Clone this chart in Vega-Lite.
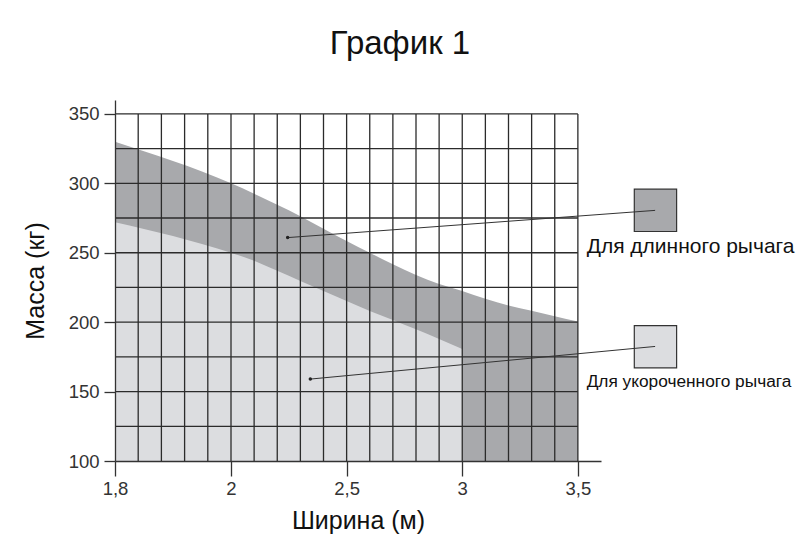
{
  "$schema": "https://vega.github.io/schema/vega-lite/v6.json",
  "autosize": "none",
  "width": 486,
  "height": 361,
  "padding": {"left": 115, "top": 100, "right": 206, "bottom": 93},
  "background": "white",
  "config": {"font": "Liberation Sans", "view": {"stroke": null}},
  "title": {"text": "График 1", "fontSize": 33, "fontWeight": "normal", "color": "#111", "frame": "group", "anchor": "middle", "dx": 42, "offset": 39},
  "datasets": {
    "dark": [
      {"w": 1.8, "kg": 330}, {"w": 2.0, "kg": 300}, {"w": 2.1, "kg": 292.5}, {"w": 2.2, "kg": 284.5},
      {"w": 2.3, "kg": 276.3}, {"w": 2.4, "kg": 267.3}, {"w": 2.5, "kg": 258.4}, {"w": 2.6, "kg": 250},
      {"w": 2.7, "kg": 241.7}, {"w": 2.8, "kg": 234}, {"w": 2.9, "kg": 227.5}, {"w": 3.0, "kg": 222.5},
      {"w": 3.1, "kg": 216.8}, {"w": 3.2, "kg": 212}, {"w": 3.3, "kg": 208.2}, {"w": 3.4, "kg": 204.3},
      {"w": 3.5, "kg": 200.5}
    ],
    "light": [
      {"w": 1.8, "kg": 272}, {"w": 2.0, "kg": 250}, {"w": 2.1, "kg": 244.3}, {"w": 2.2, "kg": 237},
      {"w": 2.3, "kg": 229.7}, {"w": 2.4, "kg": 222.5}, {"w": 2.5, "kg": 215.3}, {"w": 2.6, "kg": 208.1},
      {"w": 2.7, "kg": 201.6}, {"w": 2.8, "kg": 194.8}, {"w": 2.9, "kg": 187.8}, {"w": 3.0, "kg": 180.6}
    ],
    "hgrid": [{"kg": 125}, {"kg": 150}, {"kg": 175}, {"kg": 200}, {"kg": 225}, {"kg": 250}, {"kg": 275}, {"kg": 300}, {"kg": 325}, {"kg": 350}],
    "vgrid": [{"w": 1.84}, {"w": 1.88}, {"w": 1.92}, {"w": 1.96}, {"w": 2.0}, {"w": 2.1}, {"w": 2.2}, {"w": 2.3}, {"w": 2.4}, {"w": 2.5}, {"w": 2.6}, {"w": 2.7}, {"w": 2.8}, {"w": 2.9}, {"w": 3.0}, {"w": 3.1}, {"w": 3.2}, {"w": 3.3}, {"w": 3.4}, {"w": 3.5}],
    "notes": [
      {"series": "long", "label": "Для длинного рычага", "fromW": 2.245, "fromKg": 260.9, "toW": 3.834, "toKg": 280.5, "boxW1": 3.744, "boxW2": 3.927, "boxKg1": 265.3, "boxKg2": 295.8, "labelW": 3.538, "labelKg": 254},
      {"series": "short", "label": "Для укороченного рычага", "fromW": 2.343, "fromKg": 159, "toW": 3.834, "toKg": 182.5, "boxW1": 3.744, "boxW2": 3.927, "boxKg1": 167.1, "boxKg2": 197.5, "labelW": 3.538, "labelKg": 156.8}
    ]
  },
  "layer": [
    {
      "data": {"name": "dark"},
      "mark": {"type": "area", "color": "#a8a9ac", "interpolate": "monotone"},
      "encoding": {
        "x": {"field": "w", "type": "quantitative",
          "scale": {"domain": [1.8, 2.0, 3.6], "range": [0, 116, 486], "nice": false, "zero": false},
          "axis": {"title": "Ширина (м)", "values": [1.8, 2, 2.5, 3, 3.5], "labelExpr": "replace(toString(datum.value), '.', ',')",
            "grid": false, "tickSize": 15, "labelPadding": 3, "labelFontSize": 18.5, "labelFlush": false, "labelOverlap": false,
            "titleFontSize": 25, "titleFontWeight": "normal", "titlePadding": 11, "titleColor": "#111",
            "domainColor": "#333", "tickColor": "#333", "labelColor": "#333", "domainWidth": 1.3, "tickWidth": 1.3, "zindex": 1}},
        "y": {"field": "kg", "type": "quantitative",
          "scale": {"domain": [100, 360], "nice": false, "zero": false},
          "axis": {"title": "Масса (кг)", "values": [100, 150, 200, 250, 300, 350],
            "grid": false, "tickSize": 11, "labelPadding": 5, "labelFontSize": 18.5, "labelOverlap": false, "labelFlush": false,
            "titleFontSize": 25, "titleFontWeight": "normal", "titlePadding": 20, "titleColor": "#111",
            "domainColor": "#333", "tickColor": "#333", "labelColor": "#333", "domainWidth": 1.3, "tickWidth": 1.3, "zindex": 1}},
        "y2": {"datum": 100}
      }
    },
    {
      "data": {"name": "light"},
      "mark": {"type": "area", "color": "#dcdde0", "interpolate": "monotone"},
      "encoding": {
        "x": {"field": "w", "type": "quantitative"},
        "y": {"field": "kg", "type": "quantitative"},
        "y2": {"datum": 100}
      }
    },
    {
      "data": {"name": "hgrid"},
      "mark": {"type": "rule", "color": "#2b2b2b", "strokeWidth": 1.3},
      "encoding": {
        "x": {"datum": 1.8, "type": "quantitative"},
        "x2": {"datum": 3.5},
        "y": {"field": "kg", "type": "quantitative"}
      }
    },
    {
      "data": {"name": "vgrid"},
      "mark": {"type": "rule", "color": "#2b2b2b", "strokeWidth": 1.3},
      "encoding": {
        "x": {"field": "w", "type": "quantitative"},
        "y": {"datum": 100, "type": "quantitative"},
        "y2": {"datum": 350}
      }
    },
    {
      "data": {"name": "notes"},
      "mark": {"type": "rect", "stroke": "#333", "strokeWidth": 1.2, "clip": false},
      "encoding": {
        "x": {"field": "boxW1", "type": "quantitative"},
        "x2": {"field": "boxW2"},
        "y": {"field": "boxKg1", "type": "quantitative"},
        "y2": {"field": "boxKg2"},
        "fill": {"field": "series", "type": "nominal", "scale": {"domain": ["long", "short"], "range": ["#a8a9ac", "#dcdde0"]}, "legend": null}
      }
    },
    {
      "data": {"name": "notes"},
      "mark": {"type": "rule", "color": "#333", "strokeWidth": 1},
      "encoding": {
        "x": {"field": "fromW", "type": "quantitative"},
        "y": {"field": "fromKg", "type": "quantitative"},
        "x2": {"field": "toW"},
        "y2": {"field": "toKg"}
      }
    },
    {
      "data": {"name": "notes"},
      "mark": {"type": "point", "filled": true, "color": "#222", "size": 12, "opacity": 1},
      "encoding": {
        "x": {"field": "fromW", "type": "quantitative"},
        "y": {"field": "fromKg", "type": "quantitative"}
      }
    },
    {
      "data": {"name": "notes"},
      "mark": {"type": "text", "align": "left", "baseline": "middle", "color": "#111"},
      "encoding": {
        "x": {"field": "labelW", "type": "quantitative"},
        "y": {"field": "labelKg", "type": "quantitative"},
        "text": {"field": "label"},
        "size": {"field": "series", "type": "nominal", "scale": {"domain": ["long", "short"], "range": [21, 17.3]}, "legend": null}
      }
    }
  ]
}
